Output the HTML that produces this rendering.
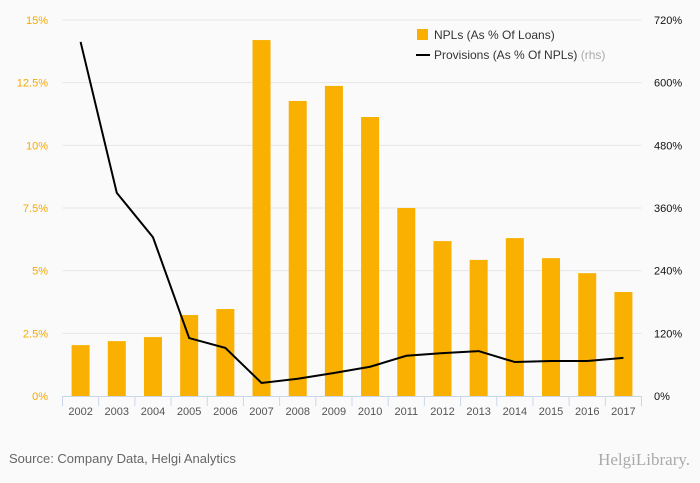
<!DOCTYPE html>
<html><head><meta charset="utf-8"><style>
body{margin:0;background:#fafafa;font-family:"Liberation Sans",sans-serif}
svg{display:block}
</style></head><body>
<svg width="700" height="483" id="c"></svg>
<script>
const years=["2002","2003","2004","2005","2006","2007","2008","2009","2010","2011","2012","2013","2014","2015","2016","2017"];
const npl=[2.03,2.19,2.35,3.23,3.47,14.2,11.77,12.37,11.13,7.5,6.18,5.43,6.3,5.5,4.9,4.15];
const prov=[678,389,304,111,92,25,33,44,56,77,82,86,65,67,67,73];
const leftTicks=[0,2.5,5,7.5,10,12.5,15];
const leftLabels=["0%","2.5%","5%","7.5%","10%","12.5%","15%"];
const rightTicks=[0,120,240,360,480,600,720];
const rightLabels=["0%","120%","240%","360%","480%","600%","720%"];
const NS="http://www.w3.org/2000/svg",svg=document.getElementById('c');
const X0=62.5,X1=641.5,Y0=396,Y1=20,step=(X1-X0)/years.length;
const xc=i=>X0+step*(i+0.5), yl=v=>Y0-(v/15)*(Y0-Y1), yr=v=>Y0-(v/720)*(Y0-Y1);
function el(t,a,txt){const e=document.createElementNS(NS,t);for(const k in a)e.setAttribute(k,a[k]);if(txt!=null)e.textContent=txt;svg.appendChild(e);return e;}
leftTicks.forEach((v,i)=>{
 if(i>0){const g=el('line',{x1:X0,x2:X1,y1:yl(v),y2:yl(v),stroke:'#e6e6e6'});
 
 }
 const t=el('text',{x:48,y:yl(v)+4,'text-anchor':'end','font-size':11,fill:'#f5a800'},leftLabels[i]);
 
 
});
rightTicks.forEach((v,i)=>{
 const t=el('text',{x:654,y:yr(v)+4,'font-size':11,fill:'#111'},rightLabels[i]);
 
 
});
npl.forEach((v,i)=>{
 const r=el('rect',{x:xc(i)-9,y:yl(v),width:18,height:Y0-yl(v),fill:'#f9b000'});
 
 
});
const ax=el('line',{x1:X0,x2:X1,y1:Y0+0.5,y2:Y0+0.5,stroke:'#ccd6eb'});


for(let i=0;i<=years.length;i++){const tk=el('line',{x1:X0+step*i,x2:X0+step*i,y1:Y0,y2:Y0+10,stroke:'#ccd6eb'});
 
 }
years.forEach((y,i)=>{const t=el('text',{x:xc(i),y:415,'text-anchor':'middle','font-size':11,fill:'#555'},y);
 
 });
const pl=el('polyline',{points:prov.map((v,i)=>xc(i)+','+yr(v)).join(' '),fill:'none',stroke:'#000','stroke-width':2});


const l1=el('rect',{x:417,y:29,width:11,height:11,fill:'#f9b000'});


const t1=el('text',{x:434,y:39,'font-size':12,fill:'#333'},'NPLs (As % Of Loans)');


const l2=el('line',{x1:416,x2:430,y1:55,y2:55,stroke:'#000','stroke-width':2});


const t2=el('text',{x:434,y:59,'font-size':12,fill:'#333'},'Provisions (As % Of NPLs) ');


const ts=document.createElementNS(NS,'tspan');ts.setAttribute('fill','#aaa');ts.textContent='(rhs)';t2.appendChild(ts);
const src=el('text',{x:9,y:463,'font-size':13,fill:'#666'},'Source: Company Data, Helgi Analytics');


const lg=el('text',{x:690,y:465,'text-anchor':'end','font-size':17,fill:'#aaa','font-family':'Liberation Serif, serif'},'HelgiLibrary.');


</script>
</body></html>
